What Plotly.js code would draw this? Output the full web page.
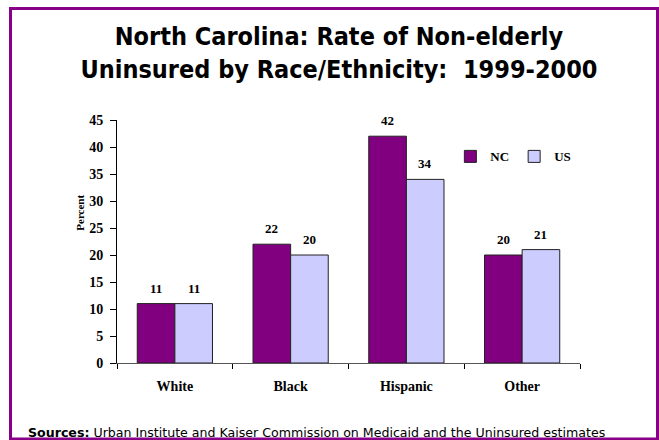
<!DOCTYPE html>
<html>
<head>
<meta charset="utf-8">
<script src="https://cdn.plot.ly/plotly-3.0.1.min.js"></script>
<style>
html,body{margin:0;padding:0;background:#fff;overflow:hidden;}
#chart{width:659px;height:440px;}
</style>
</head>
<body>
<div id="chart"></div>
<script>
var categories = ["White", "Black", "Hispanic", "Other"];
var ncValues = [11, 22, 42, 20];
var usValues = [11, 20, 34, 21];
var seriesNames = ["NC", "US"];
var yTicks = [0, 5, 10, 15, 20, 25, 30, 35, 40, 45];

var serif = "'Liberation Serif', 'Times New Roman', serif";
var barW = 0.325;

var traces = [
  {type: "bar", name: seriesNames[0], x: categories, y: ncValues,
   marker: {color: "#800080", line: {color: "#222222", width: 1}}},
  {type: "bar", name: seriesNames[1], x: categories, y: usValues,
   marker: {color: "#CCCCFF", line: {color: "#222222", width: 1}}}
];

var annotations = [];
categories.forEach(function (c, i) {
  annotations.push({x: i - barW / 2, y: ncValues[i], xref: "x", yref: "y", text: "<b>" + ncValues[i] + "</b>",
    showarrow: false, yanchor: "bottom", yshift: 6, font: {family: serif, size: 13, color: "#000"}});
  annotations.push({x: i + barW / 2, y: usValues[i], xref: "x", yref: "y", text: "<b>" + usValues[i] + "</b>",
    showarrow: false, yanchor: "bottom", yshift: 6, font: {family: serif, size: 13, color: "#000"}});
});
annotations.push({x: -0.098, y: 0.617, xref: "paper", yref: "paper", text: "<b>Percent</b>", textangle: -90,
  showarrow: false, font: {family: serif, size: 11, color: "#000"}});
annotations.push({x: -0.197, y: -0.245, xref: "paper", yref: "paper", xanchor: "left", yanchor: "top",
  text: "<b>Sources:</b> Urban Institute and Kaiser Commission on Medicaid and the Uninsured estimates",
  showarrow: false, font: {family: "'DejaVu Sans', Verdana, sans-serif", size: 12.6, color: "#000"}});

var layout = {
  width: 659, height: 440,
  margin: {l: 117, r: 79, t: 120, b: 77, pad: 0},
  paper_bgcolor: "#fff", plot_bgcolor: "#fff",
  title: {text: "North Carolina: Rate of Non-elderly<br>Uninsured by Race/Ethnicity:\u00a0 1999-2000",
    x: 0.5144, xanchor: "center", y: 0.897, yanchor: "middle",
    font: {family: "'DejaVu Sans Condensed', 'Liberation Sans', sans-serif", size: 25, color: "#000", weight: "bold"}},
  barmode: "group", bargap: 0.35, bargroupgap: 0,
  showlegend: true,
  legend: {orientation: "h", x: 0.72, y: 0.85, xanchor: "left", yanchor: "middle",
    font: {family: serif, size: 13, color: "#000", weight: "bold"}, itemwidth: 30, bgcolor: "rgba(0,0,0,0)"},
  xaxis: {type: "category", showline: true, linecolor: "#555", linewidth: 1, ticks: "outside", tickson: "boundaries",
    ticklen: 5, tickcolor: "#000", showgrid: false, zeroline: false, ticklabelstandoff: 10,
    tickfont: {family: serif, size: 14, color: "#000", weight: "bold"}},
  yaxis: {range: [0, 45], tickvals: yTicks, showline: true, linecolor: "#000", linewidth: 1, ticks: "outside",
    ticklen: 6, tickcolor: "#000", showgrid: false, zeroline: false, ticklabelstandoff: 4,
    tickfont: {family: serif, size: 14, color: "#000", weight: "bold"}},
  annotations: annotations,
  shapes: [{type: "rect", xref: "paper", yref: "paper", x0: -0.230, x1: 1.1674, y0: -0.3128, y1: 1.4588,
    line: {color: "#880088", width: 3}, fillcolor: "rgba(0,0,0,0)", layer: "below"}]
};

Plotly.newPlot("chart", traces, layout, {displayModeBar: false, staticPlot: true});
</script>
</body>
</html>
